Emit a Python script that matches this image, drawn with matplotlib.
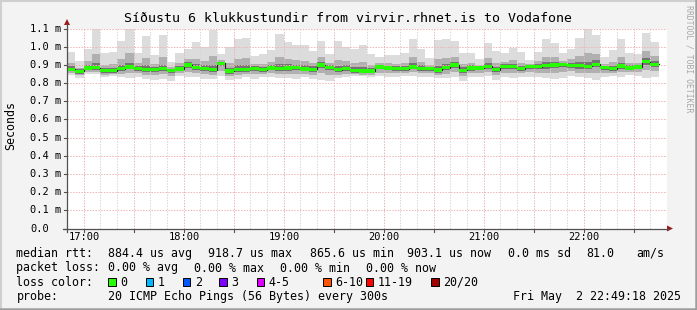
import matplotlib
matplotlib.use("Agg")
import matplotlib.pyplot as plt
from matplotlib.lines import Line2D
from matplotlib.patches import Rectangle, Polygon
import numpy as np

# ---------------- data ----------------
title = "Síðustu 6 klukkustundir from virvir.rhnet.is to Vodafone"
start_minute = 16 * 60 + 50      # left edge of graph (16:50)
end_minute = 22 * 60 + 50        # right edge (22:50)
step_minutes = 5                 # one bar per 300 s

# median rtt per 5-minute step (ms)
median = [0.876, 0.864, 0.883, 0.884, 0.868, 0.868, 0.879, 0.889, 0.879, 0.875, 0.875, 0.879,
          0.870, 0.877, 0.899, 0.885, 0.881, 0.874, 0.908, 0.866, 0.874, 0.875, 0.881, 0.874,
          0.883, 0.881, 0.883, 0.885, 0.877, 0.875, 0.899, 0.885, 0.874, 0.879,
          0.870, 0.866, 0.866, 0.888, 0.883, 0.881, 0.879, 0.888, 0.879, 0.879, 0.872, 0.885,
          0.899, 0.870, 0.883, 0.883, 0.892, 0.874, 0.890, 0.890, 0.879, 0.890, 0.890, 0.895,
          0.899, 0.902, 0.897, 0.895, 0.892, 0.904, 0.885, 0.879, 0.894, 0.883, 0.888, 0.918, 0.903]
# slowest ping per step
ping_max = [0.972, 0.921, 0.987, 1.100, 0.966, 0.972, 1.031, 1.100, 0.968, 1.059, 0.954, 1.064,
            0.917, 0.966, 0.987, 1.028, 1.000, 1.091, 0.959, 1.000, 1.042, 1.048, 0.949, 0.959,
            0.981, 1.068, 1.026, 1.011, 1.011, 0.977, 1.031, 0.959, 1.031, 1.000,
            0.990, 1.011, 0.959, 0.944, 0.954, 0.954, 0.963, 1.040, 0.990, 0.940, 1.037, 1.042,
            1.029, 0.963, 0.963, 0.935, 1.018, 0.979, 0.963, 0.994, 0.972, 0.926, 0.972, 1.042,
            1.018, 0.963, 0.990, 1.046, 1.100, 1.066, 0.944, 0.981, 1.040, 0.963, 0.959, 1.077, 1.028]
# fastest ping per step
ping_min = [0.844, 0.829, 0.850, 0.850, 0.835, 0.838, 0.831, 0.826, 0.835, 0.820, 0.817, 0.820,
            0.813, 0.838, 0.831, 0.835, 0.824, 0.820, 0.838, 0.817, 0.820, 0.831, 0.824, 0.835,
            0.835, 0.826, 0.828, 0.820, 0.831, 0.820, 0.817, 0.813, 0.826, 0.831,
            0.838, 0.838, 0.831, 0.838, 0.831, 0.831, 0.838, 0.838, 0.831, 0.835, 0.826, 0.826,
            0.835, 0.813, 0.831, 0.831, 0.838, 0.817, 0.831, 0.826, 0.835, 0.835, 0.831, 0.826,
            0.820, 0.826, 0.838, 0.831, 0.826, 0.817, 0.835, 0.838, 0.831, 0.844, 0.838, 0.826, 0.831]
# upper / lower smoke quantiles
p90 = [0.910, 0.884, 0.919, 0.960, 0.902, 0.904, 0.932, 0.963, 0.910, 0.939, 0.903, 0.944,
       0.886, 0.908, 0.930, 0.935, 0.923, 0.950, 0.926, 0.913, 0.933, 0.936, 0.905, 0.904,
       0.917, 0.946, 0.933, 0.929, 0.924, 0.911, 0.945, 0.911, 0.929, 0.921,
       0.912, 0.917, 0.899, 0.908, 0.908, 0.907, 0.908, 0.941, 0.918, 0.900, 0.930, 0.940,
       0.945, 0.903, 0.911, 0.901, 0.936, 0.911, 0.916, 0.926, 0.912, 0.903, 0.919, 0.946,
       0.941, 0.923, 0.930, 0.948, 0.965, 0.961, 0.906, 0.915, 0.945, 0.911, 0.913, 0.974, 0.947]
p75 = [0.892, 0.876, 0.899, 0.910, 0.884, 0.884, 0.899, 0.912, 0.894, 0.897, 0.889, 0.902,
       0.880, 0.892, 0.914, 0.905, 0.898, 0.902, 0.918, 0.885, 0.897, 0.898, 0.893, 0.889,
       0.899, 0.905, 0.903, 0.902, 0.897, 0.892, 0.917, 0.898, 0.896, 0.897,
       0.889, 0.888, 0.881, 0.898, 0.896, 0.895, 0.894, 0.910, 0.897, 0.890, 0.895, 0.906,
       0.917, 0.886, 0.897, 0.893, 0.911, 0.891, 0.903, 0.907, 0.895, 0.898, 0.905, 0.915,
       0.917, 0.912, 0.913, 0.916, 0.918, 0.925, 0.896, 0.896, 0.913, 0.897, 0.900, 0.938, 0.922]
p25 = [0.864, 0.852, 0.870, 0.871, 0.855, 0.856, 0.866, 0.875, 0.866, 0.861, 0.861, 0.865,
       0.856, 0.864, 0.884, 0.871, 0.867, 0.860, 0.893, 0.852, 0.860, 0.862, 0.868, 0.861,
       0.870, 0.867, 0.869, 0.871, 0.864, 0.861, 0.884, 0.871, 0.860, 0.866,
       0.857, 0.854, 0.853, 0.875, 0.870, 0.868, 0.866, 0.875, 0.866, 0.866, 0.858, 0.871,
       0.885, 0.856, 0.869, 0.870, 0.878, 0.860, 0.877, 0.876, 0.866, 0.878, 0.876, 0.880,
       0.884, 0.888, 0.883, 0.880, 0.877, 0.888, 0.872, 0.866, 0.879, 0.870, 0.875, 0.900, 0.888]
p10 = [0.856, 0.843, 0.862, 0.863, 0.847, 0.848, 0.851, 0.858, 0.853, 0.845, 0.843, 0.848,
       0.840, 0.853, 0.862, 0.855, 0.849, 0.843, 0.868, 0.838, 0.844, 0.850, 0.849, 0.850,
       0.855, 0.850, 0.852, 0.848, 0.850, 0.843, 0.856, 0.847, 0.845, 0.851,
       0.850, 0.847, 0.845, 0.858, 0.853, 0.853, 0.855, 0.859, 0.853, 0.853, 0.846, 0.852,
       0.862, 0.838, 0.854, 0.854, 0.862, 0.843, 0.858, 0.855, 0.853, 0.860, 0.857, 0.856,
       0.855, 0.860, 0.864, 0.858, 0.855, 0.858, 0.856, 0.855, 0.859, 0.862, 0.861, 0.870, 0.864]

y_ticks = [0.0, 0.1, 0.2, 0.3, 0.4, 0.5, 0.6, 0.7, 0.8, 0.9, 1.0, 1.1]
y_tick_labels = ["0.0", "0.1 m", "0.2 m", "0.3 m", "0.4 m", "0.5 m", "0.6 m",
                 "0.7 m", "0.8 m", "0.9 m", "1.0 m", "1.1 m"]
x_tick_labels = ["17:00", "18:00", "19:00", "20:00", "21:00", "22:00"]
x_tick_minutes = [17 * 60, 18 * 60, 19 * 60, 20 * 60, 21 * 60, 22 * 60]

loss_labels = ["0", "1", "2", "3", "4-5", "6-10", "11-19", "20/20"]
loss_colors = ["#26ff00", "#00b8ff", "#0059ff", "#7e00ff", "#dd00ff", "#ff5500", "#ff0000", "#a10000"]

line_rtt = [("median rtt:", 16.5), ("884.4 us avg", 107.5), ("918.7 us max", 207.5),
            ("865.6 us min", 310.5), ("903.1 us now", 407.0), ("0.0 ms sd", 508.0),
            ("81.0", 586.0), ("am/s", 636.0)]
line_loss = [("packet loss:", 16.5), ("0.00 % avg", 107.5), ("0.00 % max", 194.0),
             ("0.00 % min", 280.0), ("0.00 % now", 366.0)]
probe_text = "20 ICMP Echo Pings (56 Bytes) every 300s"
date_text = "Fri May  2 22:49:18 2025"

# ---------------- figure ----------------
W, H = 697, 310
MONO = "DejaVu Sans Mono"
fig = plt.figure(figsize=(W / 100, H / 100), dpi=100)
fig.patch.set_facecolor("#f3f3f3")

def fx(x):
    return x / W

def fy(y):
    return 1 - y / H

PL, PR, PT, PB = 67.0, 667.0, 28.5, 228.5
ax = fig.add_axes([fx(PL), fy(PB), (PR - PL) / W, (PB - PT) / H])
ax.set_xlim(start_minute, end_minute)
ax.set_ylim(0, 1.1)
ax.set_facecolor("white")
for s in ax.spines.values():
    s.set_visible(False)
ax.set_xticks([])
ax.set_yticks([])

n = len(median)
edges = start_minute + step_minutes * np.arange(n + 1)

def ext(a):
    a = np.asarray(a, float)
    return np.append(a, a[-1])

layers = [(ping_min, ping_max, "#dcdcdc"), (p10, p90, "#b0b0b0"), (p25, p75, "#747474")]
for lo, hi, c in layers:
    ax.fill_between(edges, ext(lo), ext(hi), step="post", color=c, lw=0, zorder=2)

# grid (over the smoke, under the median)
for m in range(start_minute + 10, end_minute + 1, 10):
    major = (m % 30 == 0)
    ax.axvline(m, color="#eab4b4" if major else "#dcd4d4", lw=0.72,
               ls=(0, (1.4, 1.4)), zorder=2.5)
for v in y_ticks:
    ax.axhline(v, color="#eeb6b6", lw=0.72, ls=(0, (1.4, 1.4)), zorder=2.5)

med = ext(median)
ax.step(edges, med, where="post", color="#202020", lw=0.8, zorder=3)
hw = 0.009
ax.fill_between(edges, med - hw, med + hw, step="post", color="#26ff00", lw=0, zorder=4)

# axes lines and arrows
axis_col = "#505050"
fig.add_artist(Line2D([fx(PL), fx(PL)], [fy(PB + 3), fy(24)], color=axis_col, lw=0.9))
fig.add_artist(Line2D([fx(PL - 4), fx(668)], [fy(PB), fy(PB)], color=axis_col, lw=0.9))
arrow_col = "#9b1c1c"
fig.add_artist(Polygon([[fx(PL - 3), fy(25)], [fx(PL + 3), fy(25)], [fx(PL), fy(19)]],
                       closed=True, color=arrow_col, lw=0))
fig.add_artist(Polygon([[fx(667), fy(PB - 3)], [fx(667), fy(PB + 3)], [fx(673), fy(PB)]],
                       closed=True, color=arrow_col, lw=0))

# y ticks + labels
for v, lab in zip(y_ticks, y_tick_labels):
    ypix = PB - v / 1.1 * (PB - PT)
    fig.add_artist(Line2D([fx(PL - 3), fx(PL)], [fy(ypix), fy(ypix)], color=axis_col, lw=0.8))
    fig.text(fx(30.0), fy(ypix), lab, family=MONO, fontsize=7.5, ha="left", va="center")

# x ticks + labels
for m in range(start_minute + 10, end_minute, 30):
    xpix = PL + (m - start_minute) / (end_minute - start_minute) * (PR - PL)
    fig.add_artist(Line2D([fx(xpix), fx(xpix)], [fy(PB), fy(PB + 3)], color=axis_col, lw=0.8))
for m, lab in zip(x_tick_minutes, x_tick_labels):
    xpix = PL + (m - start_minute) / (end_minute - start_minute) * (PR - PL)
    fig.text(fx(xpix + 0.5), fy(237.5), lab, family=MONO, fontsize=7.5, ha="center", va="center")

# title, axis label, watermark
fig.text(fx(347.5), fy(18.0), title, family=MONO, fontsize=9.5, ha="center", va="center")
fig.text(fx(10.5), fy(126.0), "Seconds", family=MONO, fontsize=8.4, ha="center",
         va="center", rotation=90)
fig.text(fx(689.5), fy(5.0), "RRDTOOL / TOBI OETIKER", family=MONO, fontsize=5.9,
         ha="center", va="top", rotation=270, color="#a8a8a8")

# legend
LS = 8.37
for txt, x in line_rtt:
    fig.text(fx(x), fy(253.5), txt, family=MONO, fontsize=LS, ha="left", va="center")
for txt, x in line_loss:
    fig.text(fx(x), fy(268.0), txt, family=MONO, fontsize=LS, ha="left", va="center")
fig.text(fx(16.5), fy(282.0), "loss color:", family=MONO, fontsize=LS, ha="left", va="center")
box_x = [108.3, 145.7, 182.7, 219.3, 256.7, 323.3, 365.7, 431.0]
for bx, lab, col in zip(box_x, loss_labels, loss_colors):
    fig.add_artist(Rectangle((fx(bx), fy(285.5)), 7.5 / W, 7.5 / H, facecolor=col,
                             edgecolor="black", lw=0.7))
    fig.text(fx(bx + 12), fy(282.0), lab, family=MONO, fontsize=LS, ha="left", va="center")
fig.text(fx(16.5), fy(296.5), "probe:", family=MONO, fontsize=LS, ha="left", va="center")
fig.text(fx(107.5), fy(296.5), probe_text, family=MONO, fontsize=LS, ha="left", va="center")
fig.text(fx(513.0), fy(296.5), date_text, family=MONO, fontsize=LS, ha="left", va="center")

# frame shading
fig.add_artist(Line2D([0, 1], [fy(0.7), fy(0.7)], color="#cfcfcf", lw=1.5))
fig.add_artist(Line2D([fx(0.7), fx(0.7)], [0, 1], color="#cfcfcf", lw=1.5))
fig.add_artist(Line2D([0, 1], [fy(H - 1.2), fy(H - 1.2)], color="#9e9e9e", lw=1.8))
fig.add_artist(Line2D([fx(W - 1.2), fx(W - 1.2)], [0, 1], color="#9e9e9e", lw=1.8))

fig.savefig("out.png", dpi=100, facecolor=fig.get_facecolor())
